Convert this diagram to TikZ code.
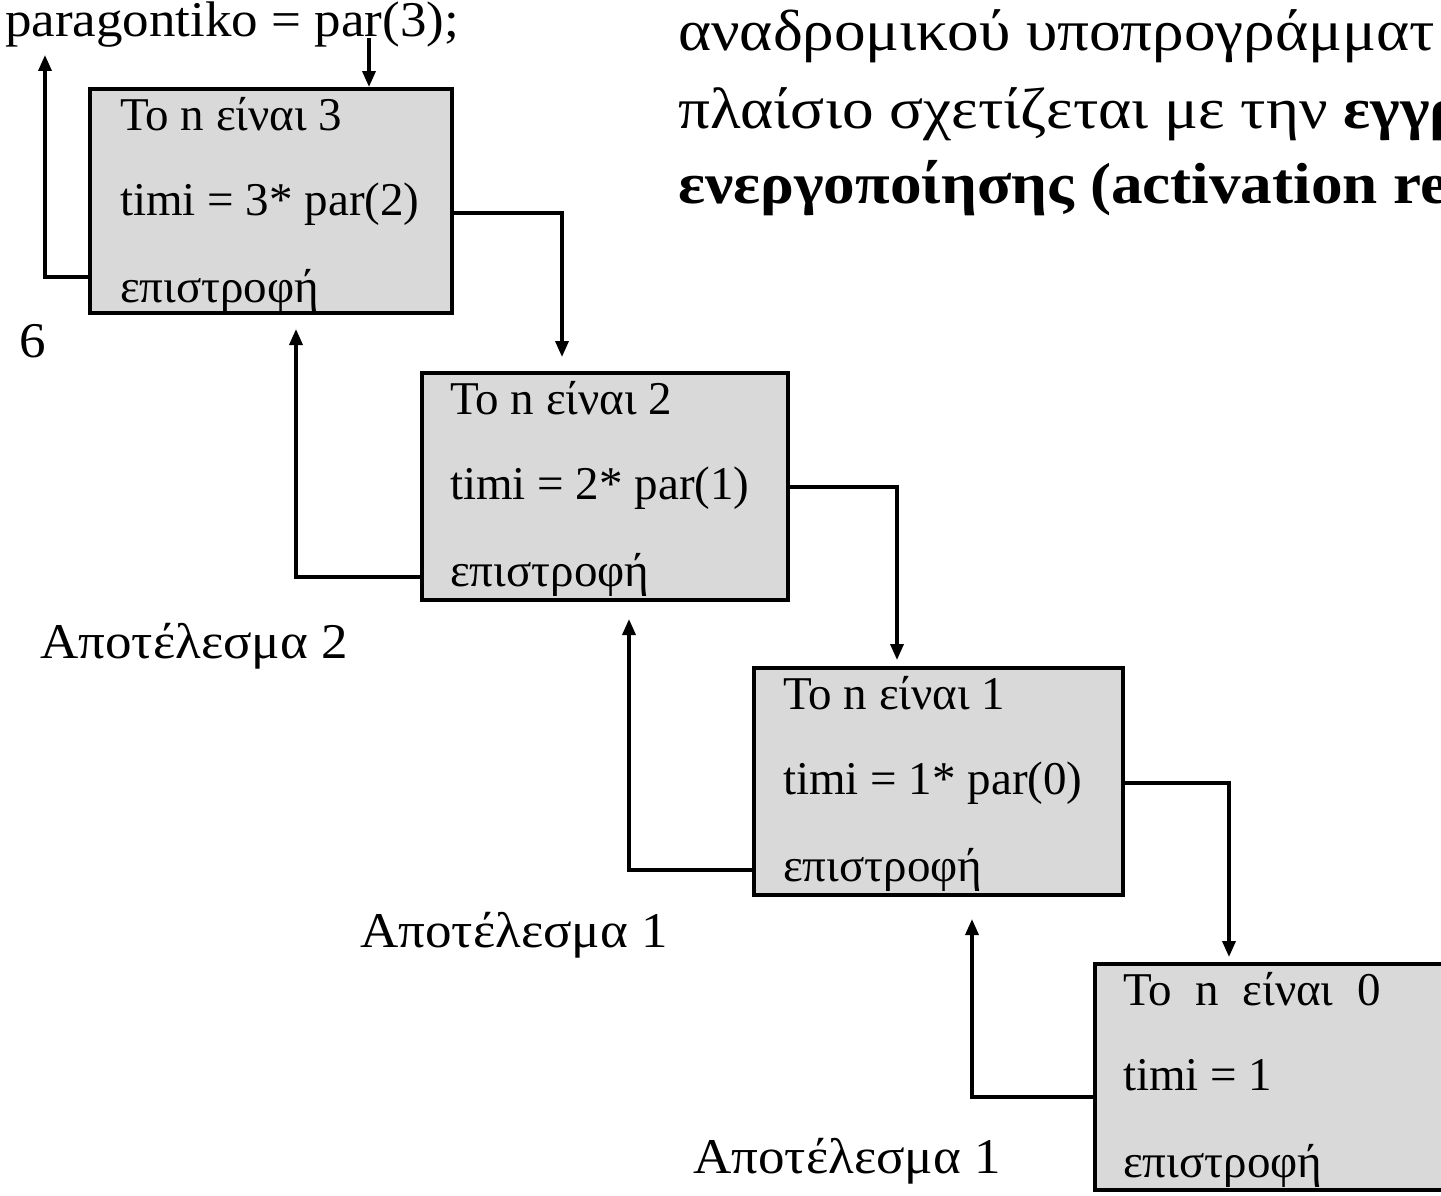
\documentclass[tikz,border=0pt]{standalone}
\usepackage{graphicx}
\usepackage{fontspec}
\setmainfont{Liberation Serif}
\usetikzlibrary{arrows.meta}
\definecolor{boxgray}{HTML}{D9D9D9}
% slightly widened lettering for the labels and the heading
\newcommand\widelbl[1]{\scalebox{1.06}[1]{#1}}
\newcommand\widehead[1]{\scalebox{1.09}[1]{#1}}
\begin{document}
\begin{tikzpicture}[x=1pt,y=-1pt,
  frame/.style={draw=black, line width=4pt, fill=boxgray, anchor=north west, inner sep=0pt},
  txt/.style={anchor=base west, inner sep=0pt, font=\fontsize{47}{56}\selectfont},
  lbl/.style={anchor=base west, inner sep=0pt, font=\fontsize{50}{60}\selectfont},
  head/.style={anchor=base west, inner sep=0pt, font=\fontsize{58}{70}\selectfont},
  arr/.style={line width=3.5pt, -{Triangle[length=16pt,width=13pt]}},
]
\useasboundingbox (0,0) rectangle (1441,1195);

% activation frames
\node[frame, minimum width=362pt, minimum height=224pt] (b1) at (88,87) {};
\node[frame, minimum width=366pt, minimum height=227pt] (b2) at (420,371) {};
\node[frame, minimum width=369pt, minimum height=227pt] (b3) at (752,666) {};
\node[frame, minimum width=400pt, minimum height=226pt] (b4) at (1093,962) {};

% frame contents
\node[txt] (b1a) at (120,130) {Το n είναι 3};
\node[txt] (b1b) at (120,215) {timi = 3* par(2)};
\node[txt] (b1c) at (120,302) {επιστροφή};
\node[txt] (b2a) at (450,414) {Το n είναι 2};
\node[txt] (b2b) at (450,499) {timi = 2* par(1)};
\node[txt] (b2c) at (450,586) {επιστροφή};
\node[txt] (b3a) at (783,709) {Το n είναι 1};
\node[txt] (b3b) at (783,794) {timi = 1* par(0)};
\node[txt] (b3c) at (783,881) {επιστροφή};
\node[txt] (b4a) at (1123,1005) {Το\ \ n\ \ είναι\ \ 0};
\node[txt] (b4b) at (1123,1090) {timi = 1};
\node[txt] (b4c) at (1123,1177) {επιστροφή};

% call and results
\node[lbl] (call) at (5,36) {\widelbl{paragontiko = par(3);}};
\node[lbl] (r3) at (19,357) {\widelbl{6}};
\node[lbl] (r2) at (40,658) {\widelbl{Αποτέλεσμα 2}};
\node[lbl] (r1) at (360,947) {\widelbl{Αποτέλεσμα 1}};
\node[lbl] (r0) at (693,1173) {\widelbl{Αποτέλεσμα 1}};

% heading
\node[head] (h1) at (678,50) {\widehead{αναδρομικού υποπρογράμματ}};
\node[head] (h2) at (678,128) {\widehead{πλαίσιο σχετίζεται με την \textbf{εγγρ}}};
\node[head] (h3) at (678,203) {\widehead{\textbf{ενεργοποίησης (activation re}}};

% calls going down
\draw[arr] (0,38 -| 369,0) -- (b1.north -| 369,0);
\draw[arr, shorten >=14pt] (b1.east |- 0,213) -| (b2.north -| 562,0);
\draw[arr, shorten >=6pt] (b2.east |- 0,487) -| (b3.north -| 897,0);
\draw[arr, shorten >=5pt] (b3.east |- 0,783) -| (b4.north -| 1229,0);

% returns going up
\draw[arr, shorten >=22pt] (b4.west |- 0,1097) -| (b3.south -| 972,0);
\draw[arr, shorten >=17pt] (b3.west |- 0,870) -| (b2.south -| 629,0);
\draw[arr, shorten >=14pt] (b2.west |- 0,577) -| (b1.south -| 296,0);
\draw[arr, shorten >=8pt] (b1.west |- 0,277) -| (call.south -| 45,0);
\end{tikzpicture}
\end{document}
